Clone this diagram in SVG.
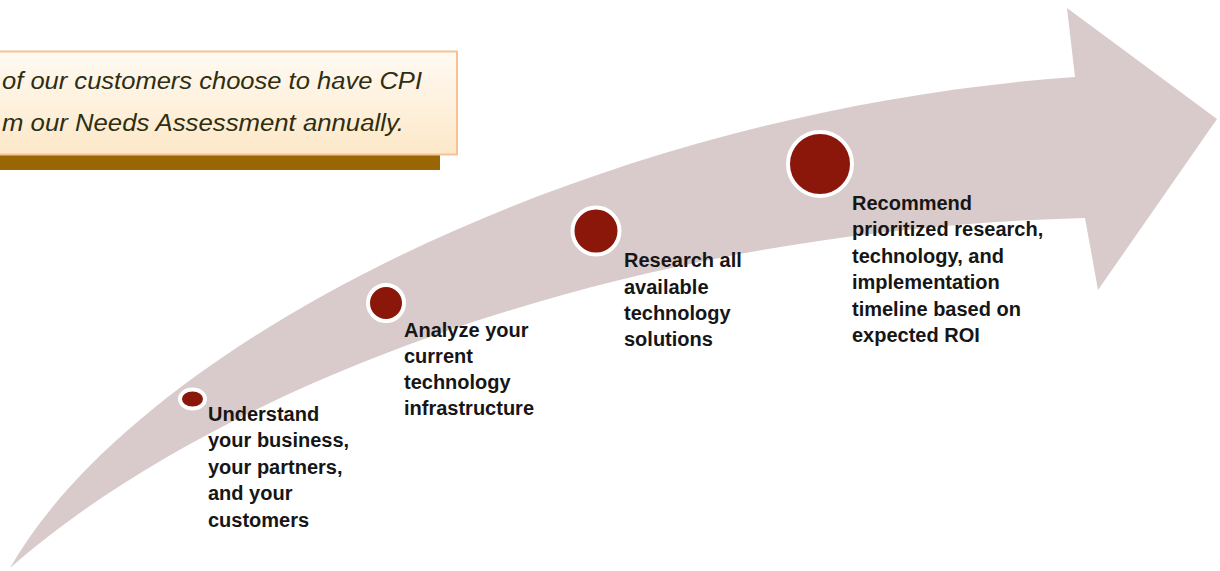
<svg xmlns="http://www.w3.org/2000/svg" width="1220" height="571" viewBox="0 0 1220 571">
<defs>
<linearGradient id="boxg" x1="0" y1="0" x2="0" y2="1">
<stop offset="0" stop-color="#fffaf3"/>
<stop offset="1" stop-color="#fde8c8"/>
</linearGradient>
<style>
.step{font-family:"Liberation Sans",Arial,sans-serif;font-weight:bold;font-size:20px;fill:#161616;}
.note{font-family:"Liberation Sans",Arial,sans-serif;font-style:italic;font-size:23px;fill:#2e2e12;}
.dot{fill:#8a170a;stroke:#ffffff;stroke-width:4;}
</style>
</defs>
<rect width="1220" height="571" fill="#ffffff"/>
<g id="arrow">
<path d="M10,568 C140,340 600,110 1075,77 L1067,8 L1217,119 L1098,290 L1085,218 C600,230 200,400 10,568 Z" fill="#d9cbcb"/>
</g>
<g id="callout">
<rect x="-10" y="153" width="450" height="17" fill="#9a6604"/>
<rect x="-10" y="51.5" width="467" height="103" fill="url(#boxg)" stroke="#f8c195" stroke-width="2"/>
<text class="note" x="2" y="89" textLength="420" lengthAdjust="spacingAndGlyphs">of our customers choose to have CPI</text>
<text class="note" x="2" y="131" textLength="402" lengthAdjust="spacingAndGlyphs">m our Needs Assessment annually.</text>
</g>
<g id="step1">
<ellipse class="dot" cx="192.5" cy="399" rx="12.5" ry="9.5"/>
<text class="step"><tspan x="208" y="421">Understand</tspan><tspan x="208" y="447">your business,</tspan><tspan x="208" y="474">your partners,</tspan><tspan x="208" y="500">and your</tspan><tspan x="208" y="527">customers</tspan></text>
</g>
<g id="step2">
<circle class="dot" cx="386" cy="303" r="18"/>
<text class="step"><tspan x="404" y="337">Analyze your</tspan><tspan x="404" y="363">current</tspan><tspan x="404" y="389">technology</tspan><tspan x="404" y="415">infrastructure</tspan></text>
</g>
<g id="step3">
<circle class="dot" cx="596" cy="231" r="23.5"/>
<text class="step"><tspan x="624" y="267">Research all</tspan><tspan x="624" y="294">available</tspan><tspan x="624" y="320">technology</tspan><tspan x="624" y="346">solutions</tspan></text>
</g>
<g id="step4">
<circle class="dot" cx="820" cy="164" r="32"/>
<text class="step"><tspan x="852" y="210">Recommend</tspan><tspan x="852" y="236">prioritized research,</tspan><tspan x="852" y="263">technology, and</tspan><tspan x="852" y="289">implementation</tspan><tspan x="852" y="316">timeline based on</tspan><tspan x="852" y="342">expected ROI</tspan></text>
</g>
<g id="connectors"></g>
</svg>
